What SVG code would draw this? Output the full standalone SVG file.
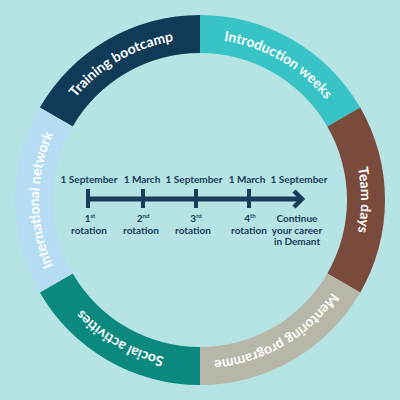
<svg xmlns="http://www.w3.org/2000/svg" xmlns:xlink="http://www.w3.org/1999/xlink" width="400" height="400" viewBox="0 0 400 400">
  <style>
    .ring { font-family: Lato, "Open Sans", sans-serif; font-size: 14px; font-weight: 700; fill: #ffffff; }
    .tl { font-family: Lato, "Open Sans", sans-serif; font-size: 10px; font-weight: 700; fill: #173d5b; text-anchor: middle; }
    .sup { font-size: 6px; }
    .tick { stroke: #173d5b; stroke-width: 4; }
  </style>
  <defs>
    <path id="textCircle" d="M 200,361 A 161 161 0 1 1 200,39 A 161 161 0 1 1 200,361"/>
  </defs>
  <rect x="0" y="0" width="400" height="400" fill="#b6e3e3"/>

  <g id="training-bootcamp">
    <path d="M 39.79,107.5 A 185 185 0 0 1 200,15 L 200,53 A 147 147 0 0 0 72.69,126.5 Z" fill="#0f3a58"/>
    <text class="ring"><textPath xlink:href="#textCircle" href="#textCircle" startOffset="41.667%" text-anchor="middle">Training bootcamp</textPath></text>
  </g>
  <g id="introduction-weeks">
    <path d="M 200,15 A 185 185 0 0 1 360.21,107.5 L 327.31,126.5 A 147 147 0 0 0 200,53 Z" fill="#38c4c6"/>
    <text class="ring"><textPath xlink:href="#textCircle" href="#textCircle" startOffset="58.333%" text-anchor="middle">Introduction weeks</textPath></text>
  </g>
  <g id="team-days">
    <path d="M 360.21,107.5 A 185 185 0 0 1 360.21,292.5 L 327.31,273.5 A 147 147 0 0 0 327.31,126.5 Z" fill="#7a4a3c"/>
    <text class="ring"><textPath xlink:href="#textCircle" href="#textCircle" startOffset="75%" text-anchor="middle">Team days</textPath></text>
  </g>
  <g id="mentoring-programme">
    <path d="M 360.21,292.5 A 185 185 0 0 1 200,385 L 200,347 A 147 147 0 0 0 327.31,273.5 Z" fill="#b8b6a8"/>
    <text class="ring"><textPath xlink:href="#textCircle" href="#textCircle" startOffset="91.667%" text-anchor="middle">Mentoring programme</textPath></text>
  </g>
  <g id="social-activities">
    <path d="M 200,385 A 185 185 0 0 1 39.79,292.5 L 72.69,273.5 A 147 147 0 0 0 200,347 Z" fill="#0c897e"/>
    <text class="ring"><textPath xlink:href="#textCircle" href="#textCircle" startOffset="8.333%" text-anchor="middle">Social activities</textPath></text>
  </g>
  <g id="international-network">
    <path d="M 39.79,292.5 A 185 185 0 0 1 39.79,107.5 L 72.69,126.5 A 147 147 0 0 0 72.69,273.5 Z" fill="#b5dcf3"/>
    <text class="ring"><textPath xlink:href="#textCircle" href="#textCircle" startOffset="25%" text-anchor="middle">International network</textPath></text>
  </g>

  <g id="timeline-labels">
    <text class="tl" x="89" y="183">1 September</text>
    <text class="tl" x="142" y="183">1 March</text>
    <text class="tl" x="194" y="183">1 September</text>
    <text class="tl" x="247" y="183">1 March</text>
    <text class="tl" x="299" y="183">1 September</text>

    <text class="tl" x="90" y="222">1<tspan class="sup" dy="-4">st</tspan></text>
    <text class="tl" x="89" y="234">rotation</text>
    <text class="tl" x="143" y="222">2<tspan class="sup" dy="-4">nd</tspan></text>
    <text class="tl" x="141" y="234">rotation</text>
    <text class="tl" x="196" y="222">3<tspan class="sup" dy="-4">rd</tspan></text>
    <text class="tl" x="193" y="234">rotation</text>
    <text class="tl" x="250" y="222">4<tspan class="sup" dy="-4">th</tspan></text>
    <text class="tl" x="249" y="234">rotation</text>
    <text class="tl" x="297" y="222">Continue</text>
    <text class="tl" x="297" y="234">your career</text>
    <text class="tl" x="297" y="245">in Demant</text>
  </g>

  <g id="connectors">
    <line x1="88" y1="199" x2="300" y2="199" stroke="#173d5b" stroke-width="5"/>
    <line class="tick" x1="88" y1="189" x2="88" y2="208"/>
    <line class="tick" x1="143" y1="189" x2="143" y2="208"/>
    <line class="tick" x1="196" y1="189" x2="196" y2="208"/>
    <line class="tick" x1="249" y1="189" x2="249" y2="208"/>
    <polyline points="294,191 302,199 294,207" fill="none" stroke="#173d5b" stroke-width="4.5" stroke-linejoin="miter"/>
  </g>
</svg>
